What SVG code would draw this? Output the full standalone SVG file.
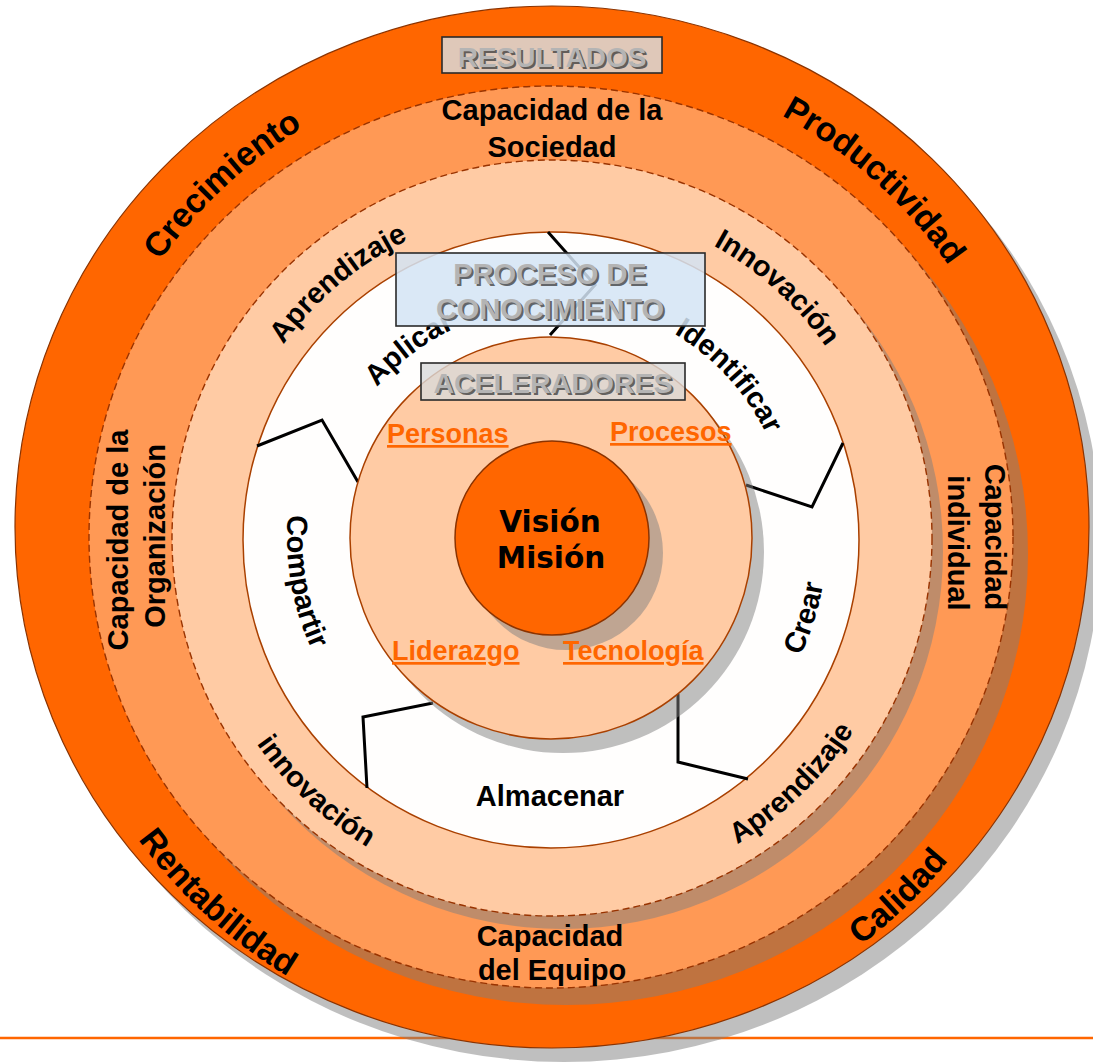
<svg xmlns="http://www.w3.org/2000/svg" xmlns:xlink="http://www.w3.org/1999/xlink" width="1093" height="1062" viewBox="0 0 1093 1062">
<style>
.t{font-family:"Liberation Sans",Arial,sans-serif;font-weight:bold;fill:#000}
.o{font-size:34px}
.r2{font-size:29px}
.r3{font-size:29px}
.w{font-size:29px}
.acc{font-family:"Liberation Sans",Arial,sans-serif;font-weight:bold;font-size:27px;fill:#FF6600;text-decoration:underline}
.ttl{font-family:"Liberation Sans",Arial,sans-serif;font-weight:bold;text-anchor:middle}
.ttlS{fill:#3a3a3a;opacity:0.75}
.ttlF{fill:#B4B4B4}
.zig{fill:none;stroke:#000;stroke-width:3;stroke-linejoin:miter}
.dash{stroke:#993300;stroke-width:1.4;stroke-dasharray:7 4}
.gs{fill:#808080;opacity:0.5}
</style>
<defs>
<path id="pCrec" d="M72.3,521.3 A480,480 0 0 1 568.8,58.3"/>
<path id="pProd" d="M526.8,57.7 A481,481 0 0 1 1032.3,512.8"/>
<path id="pRent" d="M40.5,560.3 A512,512 0 0 0 574.3,1049.5"/>
<path id="pCal" d="M543.1,1048.9 A511,511 0 0 0 1062.9,546.9"/>
<path id="pApr1" d="M222.3,509.2 A331,331 0 0 1 580.8,208.3"/>
<path id="pInn1" d="M534.5,204.5 A334,334 0 0 1 885.5,520.5"/>
<path id="pInn2" d="M192.2,550.6 A360,360 0 0 0 564.6,897.8"/>
<path id="pApr2" d="M547.6,896 A358,358 0 0 0 910,542.4"/>
<path id="pApl" d="M323.2,505.9 A231,231 0 0 1 584.1,309.2"/>
<path id="pIde" d="M562.4,300.2 A238,238 0 0 1 789.8,548.4"/>
<path id="pCom" d="M334.9,385.9 A265,265 0 0 0 400,755"/>
<path id="pCre" d="M679,781.9 A275,275 0 0 0 795.9,411"/>
</defs>

<line x1="0" y1="1038" x2="1093" y2="1038" stroke="#FF6600" stroke-width="2.5"/>

<g id="ring-resultados">
<ellipse cx="564" cy="541" rx="537" ry="521" class="gs"/>
<ellipse cx="552" cy="527" rx="537" ry="521" fill="#FF6600" stroke="#8B3300" stroke-width="1.2"/>
</g>
<g id="ring-capacidad">
<ellipse cx="566" cy="554" rx="462" ry="451" class="gs"/>
<ellipse cx="551" cy="537" rx="462" ry="451" fill="#FF9955" class="dash"/>
</g>
<g id="ring-aprendizaje">
<ellipse cx="563" cy="551" rx="380" ry="378" class="gs"/>
<ellipse cx="552" cy="538" rx="380" ry="378" fill="#FFCBA4" class="dash"/>
</g>
<g id="ring-proceso">
<circle cx="551" cy="540" r="308" fill="#FFFEFD" stroke="#A94000" stroke-width="1.5"/>
</g>

<g id="connectors">
<polyline class="zig" points="548,232 595,285 550,335"/>
<polyline class="zig" points="257,446 322,420 358,482"/>
<polyline class="zig" points="746,485 812,507 843,443"/>
<polyline class="zig" points="433,703 363,717 367,788"/>
<polyline class="zig" points="678,694 678,762 748,779"/>
</g>

<g id="ring-aceleradores">
<circle cx="563" cy="552" r="201" class="gs"/>
<circle cx="551" cy="538" r="201" fill="#FFCBA4" stroke="#A94000" stroke-width="1.5"/>
</g>
<g id="vision-mision">
<circle cx="566" cy="553" r="97" class="gs"/>
<circle cx="552" cy="538" r="97" fill="#FF6600" stroke="#8B3300" stroke-width="1.5"/>
<text x="550" y="532" text-anchor="middle" style="font-family:'DejaVu Sans',Verdana,sans-serif;font-weight:bold;font-size:29.5px">Visión</text>
<text x="551" y="568" text-anchor="middle" style="font-family:'DejaVu Sans',Verdana,sans-serif;font-weight:bold;font-size:29.5px">Misión</text>
</g>

<g id="labels-outer">
<text class="t o"><textPath xlink:href="#pCrec" href="#pCrec" startOffset="50%" text-anchor="middle">Crecimiento</textPath></text>
<text class="t o"><textPath xlink:href="#pProd" href="#pProd" startOffset="50%" text-anchor="middle">Productividad</textPath></text>
<text class="t o"><textPath xlink:href="#pRent" href="#pRent" startOffset="50%" text-anchor="middle">Rentabilidad</textPath></text>
<text class="t o"><textPath xlink:href="#pCal" href="#pCal" startOffset="50%" text-anchor="middle">Calidad</textPath></text>
</g>

<g id="labels-capacidad">
<text class="t r2" x="552" y="120" text-anchor="middle">Capacidad de la</text>
<text class="t r2" x="552" y="157" text-anchor="middle">Sociedad</text>
<text class="t r2" x="550" y="946" text-anchor="middle">Capacidad</text>
<text class="t r2" x="552" y="980" text-anchor="middle">del Equipo</text>
<text class="t r2" transform="translate(128,540) rotate(-90)" text-anchor="middle">Capacidad de la</text>
<text class="t r2" transform="translate(165,536) rotate(-90)" text-anchor="middle">Organización</text>
<text class="t r2" transform="translate(985,537) rotate(90)" text-anchor="middle">Capacidad</text>
<text class="t r2" transform="translate(948,543) rotate(90)" text-anchor="middle">individual</text>
</g>

<g id="labels-aprendizaje">
<text class="t r3"><textPath xlink:href="#pApr1" href="#pApr1" startOffset="50%" text-anchor="middle">Aprendizaje</textPath></text>
<text class="t r3"><textPath xlink:href="#pInn1" href="#pInn1" startOffset="50%" text-anchor="middle">Innovación</textPath></text>
<text class="t r3"><textPath xlink:href="#pInn2" href="#pInn2" startOffset="50%" text-anchor="middle">innovación</textPath></text>
<text class="t r3"><textPath xlink:href="#pApr2" href="#pApr2" startOffset="50%" text-anchor="middle">Aprendizaje</textPath></text>
</g>

<g id="labels-proceso">
<text class="t w"><textPath xlink:href="#pApl" href="#pApl" startOffset="50%" text-anchor="middle">Aplicar</textPath></text>
<text class="t w"><textPath xlink:href="#pIde" href="#pIde" startOffset="50%" text-anchor="middle">Identificar</textPath></text>
<text class="t w"><textPath xlink:href="#pCom" href="#pCom" startOffset="50%" text-anchor="middle">Compartir</textPath></text>
<text class="t w"><textPath xlink:href="#pCre" href="#pCre" startOffset="50%" text-anchor="middle">Crear</textPath></text>
<text class="t w" x="550" y="806" text-anchor="middle">Almacenar</text>
</g>

<g id="labels-aceleradores">
<text class="acc" x="387" y="443">Personas</text>
<text class="acc" x="610" y="441">Procesos</text>
<text class="acc" x="392" y="660">Liderazgo</text>
<text class="acc" x="563" y="660">Tecnología</text>
</g>

<g id="box-resultados">
<rect x="442" y="37" width="220" height="36" fill="#D9D9D9" fill-opacity="0.85" stroke="#2a2a2a" stroke-width="1.6"/>
<text class="ttl ttlS" x="554" y="69" font-size="28">RESULTADOS</text>
<text class="ttl ttlF" x="552" y="67" font-size="28">RESULTADOS</text>
</g>
<g id="box-proceso">
<rect x="396" y="253" width="309" height="73" fill="#D3E4F5" fill-opacity="0.85" stroke="#2a2a2a" stroke-width="1.6"/>
<text class="ttl ttlS" x="552" y="286" font-size="29">PROCESO DE</text>
<text class="ttl ttlF" x="550" y="284" font-size="29">PROCESO DE</text>
<text class="ttl ttlS" x="552" y="321" font-size="29">CONOCIMIENTO</text>
<text class="ttl ttlF" x="550" y="319" font-size="29">CONOCIMIENTO</text>
</g>
<g id="box-aceleradores">
<rect x="421" y="363" width="264" height="37" fill="#D9D9D9" fill-opacity="0.8" stroke="#2a2a2a" stroke-width="1.6"/>
<text class="ttl ttlS" x="555" y="395" font-size="28.5">ACELERADORES</text>
<text class="ttl ttlF" x="553" y="393" font-size="28.5">ACELERADORES</text>
</g>
</svg>
